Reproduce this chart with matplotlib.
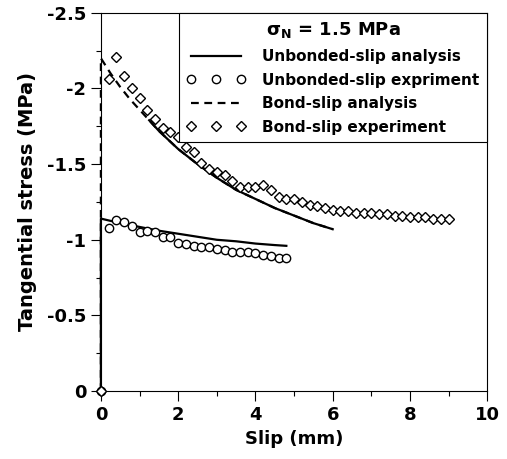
import numpy as np
import matplotlib.pyplot as plt
from matplotlib.ticker import MultipleLocator

plt.rcParams['font.family'] = ['DejaVu Sans']
plt.rcParams['font.weight'] = 'bold'
plt.rcParams['mathtext.fontset'] = 'custom'
plt.rcParams['mathtext.rm'] = 'DejaVu Sans:bold'
plt.rcParams['mathtext.bf'] = 'DejaVu Sans:bold'

# unbonded-slip analysis (solid, lower curve)
unb_ana_x = [0, 0, 0.5, 1.0, 1.5, 2.0, 2.5, 3.0, 3.5, 4.0, 4.5, 4.8]
unb_ana_y = [0, -1.14, -1.11, -1.085, -1.06, -1.04, -1.02, -1.0, -0.99, -0.975, -0.965, -0.96]

# unbonded-slip experiment (circles)
unb_exp_x = [0, 0.2, 0.4, 0.6, 0.8, 1.0, 1.2, 1.4, 1.6, 1.8, 2.0, 2.2, 2.4, 2.6,
             2.8, 3.0, 3.2, 3.4, 3.6, 3.8, 4.0, 4.2, 4.4, 4.6, 4.8]
unb_exp_y = [0, -1.08, -1.13, -1.12, -1.09, -1.05, -1.06, -1.05, -1.02, -1.02, -0.98,
             -0.97, -0.96, -0.955, -0.95, -0.94, -0.93, -0.92, -0.92, -0.92, -0.91,
             -0.90, -0.895, -0.88, -0.88]

# bond-slip analysis (dashed, upper curve)
bond_ana_x = [0, 0, 0.25, 0.5, 0.75, 1.0, 1.25, 1.5, 1.75, 2.0, 2.5, 3.0, 3.5,
              4.0, 4.5, 5.0, 5.5, 6.0]
bond_ana_y = [0, -2.2, -2.1, -2.01, -1.93, -1.86, -1.79, -1.72, -1.66, -1.60, -1.50,
              -1.41, -1.33, -1.27, -1.21, -1.16, -1.11, -1.07]

# bond-slip experiment (diamonds)
bond_exp_x = [0, 0.2, 0.4, 0.6, 0.8, 1.0, 1.2, 1.4, 1.6, 1.8, 2.0, 2.2, 2.4, 2.6, 2.8,
              3.0, 3.2, 3.4, 3.6, 3.8, 4.0, 4.2, 4.4, 4.6, 4.8, 5.0, 5.2, 5.4, 5.6,
              5.8, 6.0, 6.2, 6.4, 6.6, 6.8, 7.0, 7.2, 7.4, 7.6, 7.8, 8.0, 8.2, 8.4,
              8.6, 8.8, 9.0]
bond_exp_y = [0, -2.06, -2.21, -2.08, -2.00, -1.94, -1.86, -1.80, -1.74, -1.71, -1.68,
              -1.61, -1.58, -1.51, -1.47, -1.45, -1.43, -1.39, -1.35, -1.35, -1.35,
              -1.36, -1.33, -1.28, -1.27, -1.27, -1.25, -1.23, -1.22, -1.21, -1.20,
              -1.19, -1.19, -1.18, -1.18, -1.18, -1.17, -1.17, -1.16, -1.16, -1.15,
              -1.15, -1.15, -1.14, -1.14, -1.14]

yticks = [0, -0.5, -1, -1.5, -2, -2.5]
ytick_labels = ['0', '-0.5', '-1', '-1.5', '-2', '-2.5']

fig = plt.figure(figsize=(5.07, 4.59), dpi=100)
ax = fig.add_axes([0.199, 0.148, 0.762, 0.824])

ax.plot(unb_ana_x, unb_ana_y, 'k-', lw=1.6, label='Unbonded-slip analysis', clip_on=False)
ax.plot(unb_exp_x, unb_exp_y, 'o', mfc='white', mec='k', mew=1.0, ms=6,
        label='Unbonded-slip expriment', zorder=3, clip_on=False)
ax.plot(bond_ana_x, bond_ana_y, 'k--', lw=1.6, dashes=(3.5, 2.5),
        label='Bond-slip analysis', clip_on=False)
# the upper curve turns solid past ~1.3 mm
split = 6
ax.plot(bond_ana_x[split:], bond_ana_y[split:], 'k-', lw=1.6)
ax.plot(bond_exp_x, bond_exp_y, 'D', mfc='white', mec='k', mew=1.0, ms=4.6,
        label='Bond-slip experiment', zorder=3, clip_on=False)

ax.set_xlim(0, 10)
ax.set_ylim(0, -2.5)
ax.xaxis.set_major_locator(MultipleLocator(2))
ax.xaxis.set_minor_locator(MultipleLocator(1))
ax.set_yticks(yticks)
ax.set_yticklabels(ytick_labels)
ax.yaxis.set_minor_locator(MultipleLocator(0.25))
ax.tick_params(which='both', direction='out', top=False, right=False,
               labelsize=13, width=0.8, colors='k')
ax.tick_params(which='major', length=7)
ax.tick_params(which='minor', length=3.5)
ax.tick_params(axis='x', which='major', pad=4)
for s in ax.spines.values():
    s.set_linewidth(0.8)

ax.set_xlabel('Slip (mm)', fontsize=13, fontweight='bold', labelpad=4)
ax.set_ylabel('Tangential stress (MPa)', fontsize=14, fontweight='bold', labelpad=7)

leg = ax.legend(loc='upper right', borderaxespad=0, fancybox=False, framealpha=1,
                edgecolor='k', fontsize=11, numpoints=3, handlelength=3.85,
                labelspacing=0.56, handletextpad=1.1, borderpad=0.5,
                title='σ$_{\\rm N}$ = 1.5 MPa',
                title_fontproperties={'size': 13, 'weight': 'bold'})
leg.get_frame().set_linewidth(0.8)

fig.savefig('out.png', dpi=100)
